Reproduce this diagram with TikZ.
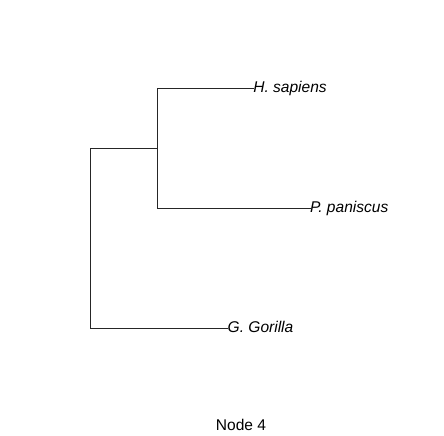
\documentclass[tikz,border=0pt]{standalone}
\usepackage{fontspec}
\setmainfont{Liberation Sans}
\begin{document}
\begin{tikzpicture}[x=1bp,y=-1bp,
  branch/.style={draw=black!85, line width=1bp, line cap=rect},
  leaf/.style={font=\fontsize{15.6}{18}\selectfont\itshape, anchor=base west, inner sep=0pt, outer sep=0pt},
  caption/.style={font=\fontsize{15.6}{18}\selectfont, anchor=base, inner sep=0pt}]
\useasboundingbox (0,0) rectangle (444,436);
% internal nodes
\coordinate (root) at (90.7,148.3);
\coordinate (rootlow) at (90.7,328.3);
\coordinate (inner) at (157.3,148.3);
\coordinate (innertop) at (157.3,88.3);
\coordinate (innerlow) at (157.3,208.3);
% tips
\coordinate (hs) at (253.3,88.3);
\coordinate (pp) at (310,208.3);
\coordinate (gg) at (227.7,328.3);
% branches
\draw[branch] (rootlow) -- (root) -- (inner);
\draw[branch] (innertop) -- (innerlow);
\draw[branch] (innertop) -- (hs);
\draw[branch] (innerlow) -- (pp);
\draw[branch] (rootlow) -- (gg);
% labels
\node[leaf] (hsl) at ([yshift=-4bp]hs) {H. sapiens};
\node[leaf] (ppl) at ([yshift=-4bp]pp) {P. paniscus};
\node[leaf] (ggl) at ([yshift=-4bp]gg) {G. Gorilla};
\node[caption] (cap) at (241,430) {Node 4};
\end{tikzpicture}
\end{document}
